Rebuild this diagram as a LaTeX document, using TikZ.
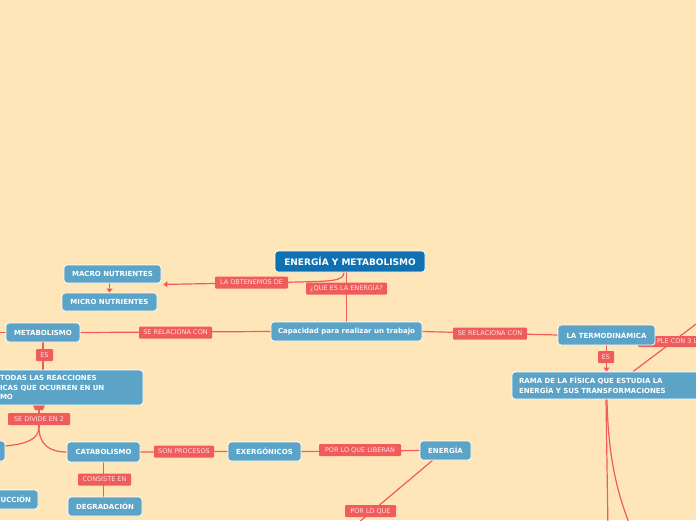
\documentclass[tikz,border=0pt]{standalone}
\usepackage{fontspec}
\setmainfont{DejaVu Sans}
\usetikzlibrary{arrows.meta}
\pgfdeclarelayer{bg}
\pgfsetlayers{bg,main}
\definecolor{bgc}{HTML}{FFE6B8}
\definecolor{lb}{HTML}{5BA4C8}
\definecolor{db}{HTML}{0F71B1}
\definecolor{rl}{HTML}{F05B5B}
\definecolor{lt}{HTML}{FFE2E2}
\tikzset{
 bnode/.style={fill=lb, draw=white, line width=0.8pt, rounded corners=3pt, text=white, font=\bfseries\fontsize{7}{9.5}\selectfont, inner xsep=7pt, inner ysep=0pt},
 tnode/.style={bnode, fill=db, font=\bfseries\fontsize{9}{11}\selectfont},
 lab/.style={fill=rl, rounded corners=1pt, text=lt, font=\fontsize{6.5}{8}\selectfont, inner xsep=3pt, inner ysep=0pt, minimum height=12pt},
 conn/.style={draw=rl, line width=1.2pt},
 arrowtip/.style={-{Triangle[length=4pt,width=6pt]}}
}
\begin{document}
\begin{tikzpicture}[x=1pt,y=-1pt]
\useasboundingbox (0,0) rectangle (696,520);
\begin{pgfonlayer}{bg}\fill[bgc] (0,0) rectangle (696,520);\end{pgfonlayer}
% labels
\node[lab, minimum width=73pt] (lobt) at (251.5,282.5) {LA OBTENEMOS DE};
\node[lab, minimum width=81pt] (qes) at (346.5,288.5) {¿QUE ES LA ENERGÍA?};
\node[lab, minimum width=73pt] (rel1) at (175.5,332.5) {SE RELACIONA CON};
\node[lab, minimum width=74pt] (rel2) at (490,333.5) {SE RELACIONA CON};
\node[lab, minimum width=17pt] (es1) at (44.5,355) {ES};
\node[lab, minimum width=16pt] (es2) at (606,357) {ES};
\node[lab, minimum width=62pt] (div) at (39,419) {SE DIVIDE EN 2};
\node[lab, minimum width=60pt] (son) at (184,451.5) {SON PROCESOS};
\node[lab, minimum width=82pt] (lib) at (360,450) {POR LO QUE LIBERAN};
\node[lab, minimum width=53pt] (cons) at (104.5,479.5) {CONSISTE EN};
\node[lab, minimum width=51pt] (plq) at (370.5,511) {POR LO QUE};
\node[lab, text width=120pt, align=left, inner xsep=19pt, minimum height=11pt] (cumple) at (717,341.5) {PLE CON 3 L};
% nodes
\node[tnode, minimum width=150pt, minimum height=21pt] (title) at (350,261.5) {ENERGÍA Y METABOLISMO};
\node[bnode, minimum width=151pt, minimum height=19pt] (cap) at (346.5,331.5) {Capacidad para realizar un trabajo};
\node[bnode, minimum width=97pt, minimum height=18pt] (macro) at (112.5,274) {MACRO NUTRIENTES};
\node[bnode, minimum width=95pt, minimum height=18pt] (micro) at (109.5,302) {MICRO NUTRIENTES};
\node[bnode, minimum width=74pt, minimum height=19pt] (metab) at (43,332.5) {METABOLISMO};
\node[bnode, text width=136pt, align=left, minimum height=35pt] (conj) at (68,387.5) {TODAS LAS REACCIONES\\ICAS QUE OCURREN EN UN\\MO};
\node[bnode, minimum width=35pt, minimum height=20pt] (left) at (-12.5,451) {};
\node[bnode, text width=64pt, align=right, minimum height=19pt] (ucc) at (-1,499.5) {UCCIÓN};
\node[bnode, minimum width=73pt, minimum height=20pt] (catab) at (103.5,452) {CATABOLISMO};
\node[bnode, minimum width=73pt, minimum height=19pt] (exerg) at (264.5,451.5) {EXERGÓNICOS};
\node[bnode, minimum width=51pt, minimum height=19pt] (energia) at (445.5,450.5) {ENERGÍA};
\node[bnode, minimum width=74pt, minimum height=19pt] (degrad) at (105,506.5) {DEGRADACIÓN};
\node[bnode, minimum width=97pt, minimum height=20pt] (termo) at (606.5,335) {LA TERMODINÁMICA};
\node[bnode, text width=220pt, align=left, minimum height=27pt] (rama) at (629,385.5) {RAMA DE LA FÍSICA QUE ESTUDIA LA\\ENERGÍA Y SUS TRANSFORMACIONES};
% connectors
\begin{pgfonlayer}{bg}
\draw[conn] (cap.north |- title.south) -- (cap.north);
\draw[conn, arrowtip] ([xshift=-6pt]title.south) .. controls +(0,9) and (330,281) .. (300,282) -- ([shift={(2,1)}]macro.south east);
\draw[conn, arrowtip] (micro.north |- macro.south) -- (micro.north);
\draw[conn] (cap.west) -- (metab.east);
\draw[conn] (metab.west) -- ++(-15,0);
\draw[conn] (cap.east) -- (termo.west);
\draw[conn] (metab.south) -- (metab.south |- conj.north);
\coordinate (split) at (39,427);
\draw[conn] (div.center |- conj.south) -- (split);
\draw[conn] (split) .. controls (39,440) and (25,444) .. ([yshift=5pt]left.east);
\draw[conn] (split) .. controls (39,445) and (50,452) .. (catab.west);
\fill[rl] (33,405) -- (45,405) -- (43,410) -- (35,410) -- cycle;
\draw[conn] (catab.east) -- (exerg.west);
\draw[conn] (exerg.east) -- (energia.west);
\draw[conn] (catab.south) -- (catab.south |- degrad.north);
\coordinate (offE) at (345,534);
\draw[conn] ([xshift=-13pt]energia.south) -- (offE);
\draw[conn, arrowtip] (termo.south) -- (termo.south |- rama.north);
\coordinate (ne) at (720,306);
\draw[conn] (ne) -- ([xshift=4pt]rama.north);
\coordinate (rb1) at (608,530);
\coordinate (rb2) at (632,530);
\draw[conn] ([xshift=-23pt]rama.south) -- (rb1);
\draw[conn] ([xshift=-22pt]rama.south) .. controls (608,450) and (615,490) .. (rb2);
\end{pgfonlayer}
\end{tikzpicture}
\end{document}
